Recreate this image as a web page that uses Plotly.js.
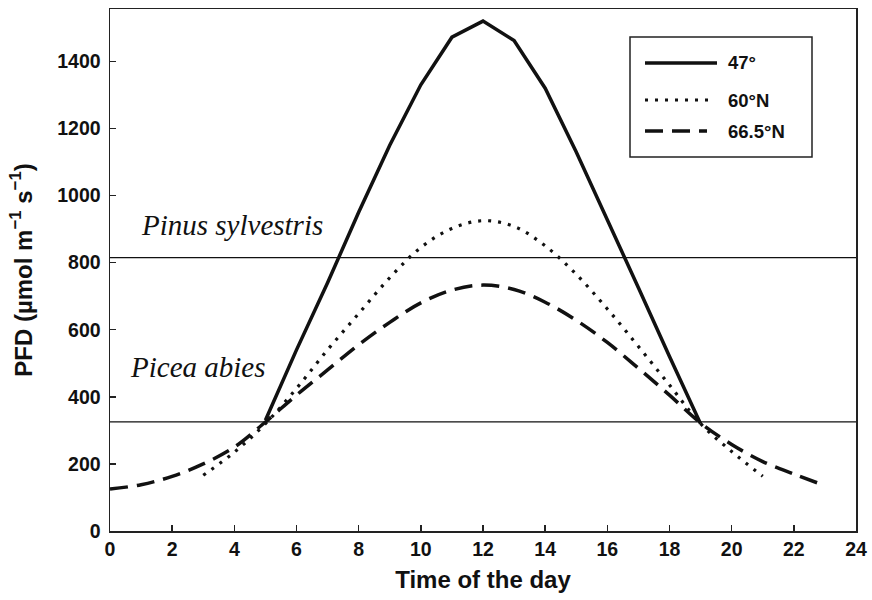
<!DOCTYPE html>
<html>
<head>
<meta charset="utf-8">
<script src="https://cdn.plot.ly/plotly-3.0.1.min.js"></script>
<style>html,body{margin:0;padding:0;background:#fff;}#chart{width:872px;height:600px;}</style>
</head>
<body>
<div id="chart"></div>
<script>
// 47° (solid)
const hours47 = [5, 6, 7, 8, 9, 10, 11, 12, 13, 14, 15, 16, 17, 18, 19];
const pfd47 = [330, 540, 740, 950, 1150, 1330, 1472, 1520, 1462, 1320, 1130, 930, 725, 520, 320];
// 60°N (dotted)
const hours60 = [3, 4, 5, 6, 7, 8, 9, 10, 11, 12, 13, 14, 15, 16, 17, 18, 19, 20, 21];
const pfd60 = [166, 235, 320, 425, 540, 648, 755, 845, 902, 925, 908, 850, 765, 662, 550, 435, 320, 237, 163];
// 66.5°N (dashed)
const hours66 = [0, 1, 2, 3, 4, 5, 6, 7, 8, 9, 10, 11, 12, 13, 14, 15, 16, 17, 18, 19, 20, 21, 22, 22.8];
const pfd66 = [125, 138, 163, 200, 250, 325, 405, 480, 555, 622, 680, 718, 733, 720, 682, 628, 562, 485, 405, 322, 258, 207, 170, 142];
// saturation thresholds
const thresholdNames = ["Pinus sylvestris", "Picea abies"];
const thresholdValues = [815, 325];
const seriesNames = ["47°", "60°N", "66.5°N"];
const xTicks = [0, 2, 4, 6, 8, 10, 12, 14, 16, 18, 20, 22, 24];
const yTicks = [0, 200, 400, 600, 800, 1000, 1200, 1400];

const traces = [
  {x: hours47, y: pfd47, name: seriesNames[0], mode: 'lines', line: {color: '#111', width: 3.5}},
  {x: hours60, y: pfd60, name: seriesNames[1], mode: 'lines', line: {color: '#111', width: 3.2, dash: '3px,7px', shape: 'spline'}},
  {x: hours66, y: pfd66, name: seriesNames[2], mode: 'lines', line: {color: '#111', width: 3.5, dash: '18px,9px', shape: 'spline'}}
];

const shapes = thresholdValues.map(v => ({
  type: 'line', xref: 'paper', x0: 0, x1: 1, yref: 'y', y0: v, y1: v,
  line: {color: '#111', width: 1.2}, layer: 'below'
}));

// custom legend box
const W = 746, H = 522, L = 110, T = 9;
const px = x => (x - L) / W;
const py = y => (T + H - y) / H;
shapes.push({type: 'rect', xref: 'paper', yref: 'paper', x0: px(630), x1: px(812), y0: py(157), y1: py(37),
  line: {color: '#222', width: 1.5}, fillcolor: 'rgba(0,0,0,0)'});
const legY = [63, 100, 131];
const legDash = ['solid', '3px,7px', '18px,9px'];
const legX1 = [717, 710, 707];
const annotations = [];
seriesNames.forEach((n, i) => {
  shapes.push({type: 'line', xref: 'paper', yref: 'paper', x0: px(645), x1: px(legX1[i]), y0: py(legY[i]), y1: py(legY[i]),
    line: {color: '#111', width: i === 1 ? 3.2 : 3.5, dash: legDash[i]}});
  annotations.push({xref: 'paper', yref: 'paper', x: px(726), y: py(legY[i]), xanchor: 'left', yanchor: 'middle',
    text: '<b>' + n + '</b>', showarrow: false, font: {family: 'Liberation Sans, Arial', size: 18.5, color: '#111'}});
});
annotations.push({xref: 'x', yref: 'y', x: 3.93, y: 912, text: '<i>' + thresholdNames[0] + '</i>', showarrow: false,
  xanchor: 'center', yanchor: 'middle', font: {family: 'Liberation Serif, Times New Roman', size: 29, color: '#111'}});
annotations.push({xref: 'x', yref: 'y', x: 2.82, y: 489, text: '<i>' + thresholdNames[1] + '</i>', showarrow: false,
  xanchor: 'center', yanchor: 'middle', font: {family: 'Liberation Serif, Times New Roman', size: 29, color: '#111'}});

const axisFont = {family: 'Liberation Sans, Arial', size: 19.5, color: '#111'};
const layout = {
  width: 872, height: 600,
  margin: {l: L, r: 872 - L - W, t: T, b: 600 - T - H},
  paper_bgcolor: '#fff', plot_bgcolor: '#fff',
  showlegend: false,
  font: {family: 'Liberation Sans, Arial', color: '#111'},
  xaxis: {
    range: [0, 24], tickvals: xTicks, ticktext: xTicks.map(t => '<b>' + t + '</b>'),
    ticks: 'inside', ticklen: 6, tickwidth: 1.5, tickcolor: '#222',
    showline: true, linecolor: '#222', linewidth: 1.5, mirror: true,
    showgrid: false, zeroline: false, tickfont: axisFont,
    title: {text: '<b>Time of the day</b>', font: {family: 'Liberation Sans, Arial', size: 24, color: '#111'}, standoff: 12}
  },
  yaxis: {
    range: [0, 1556], tickvals: yTicks, ticktext: yTicks.map(t => '<b>' + t + '</b>'),
    ticks: 'inside', ticklen: 6, tickwidth: 1.5, tickcolor: '#222',
    showline: true, linecolor: '#222', linewidth: 1.5, mirror: true,
    showgrid: false, zeroline: false, tickfont: axisFont, ticklabelstandoff: 4,
    title: {text: '<b>PFD (µmol m<sup>−1</sup> s<sup>−1</sup>)</b>', font: {family: 'Liberation Sans, Arial', size: 24, color: '#111'}, standoff: 18}
  },
  shapes: shapes,
  annotations: annotations
};

Plotly.newPlot('chart', traces, layout, {displayModeBar: false, staticPlot: true});
</script>
</body>
</html>
